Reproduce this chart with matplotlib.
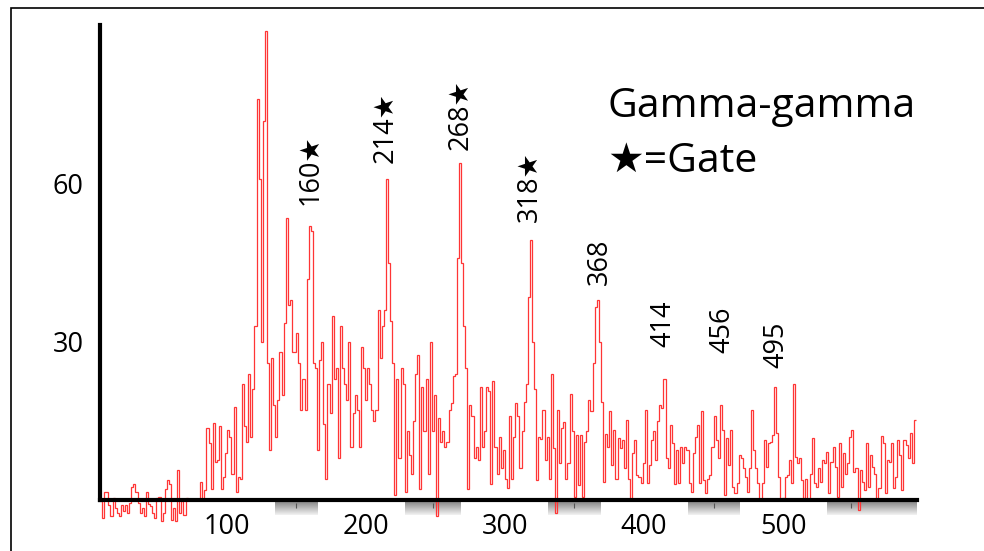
import numpy as np
import matplotlib
matplotlib.use("Agg")
import matplotlib.pyplot as plt
from matplotlib.patches import Rectangle
from matplotlib.colors import LinearSegmentedColormap

# ---------------- data ----------------
# background-subtracted counts per 1.5 keV bin, split by energy range
counts_009_109 = [0, -3.5, 1.6, 1.6, -1, -3, 0.3, -1.6, -2.5, -3,
                  -1, -2, -1, -2.5, -0.5, 2.5, 3, 1.6, -0.5, -2.5,
                  -1.5, -3, 1.6, -0.8, -1.2, -2.5, -3.5, 0.3, 0.5, -4,
                  -2.5, 2, 3.8, 3, -3.8, -1.5, -4, 5.7, -2.5, -0.2,
                  -2.8, 0.3, 0, 0, 0, 0, 0, 0, 3.4, 0,
                  1.9, 13.7, 10.8, 2, 14.6, 7.3, 7.6, 14, 2, 4.4,
                  9, 13.3, 12, 5, 17.7, 1.5, 4.4]
counts_109_210 = [4, 22, 14, 11, 24, 12, 21, 33, 76, 61,
                  30, 72, 89, 26, 9.5, 27, 18, 12, 19, 28,
                  20, 33.6, 53.5, 37, 38, 28, 28, 31.7, 26, 17,
                  23, 17, 42, 52, 51, 26, 25, 9.5, 26.5, 30,
                  14.5, 4, 22, 16.5, 35, 23, 25, 8, 33, 25,
                  22, 19, 30, 10, 16.5, 20, 17, 10, 29, 25,
                  19, 25, 22, 17, 15, 17, 36]
counts_210_310 = [27, 33, 36, 61, 45, 34, 26, 1, 23, 8,
                  25, 22, 1.5, 13, 8.5, 5, 15, 24, 27.5, 2,
                  21.5, 13, 23, 5, 30, 13, 20, -3, 15.5, 11,
                  13, 10, 11, 17, 18.5, 23.5, 24, 46, 64, 45,
                  33, 25, 2, 18, 16, 8, 10, 7.5, 21.5, 10,
                  13, 21.5, 20.6, 3, 22.5, 10, 5, 12, 6, 9.5,
                  4, 2.2, 16, 4, 12, 18.5, 16]
counts_310_410 = [6, 13, 18.6, 22, 38.5, 49.3, 30, 21, 3.8, 12,
                  11.5, 17, 7.6, 12, 4, 24, 9.8, -2.5, 17, 7,
                  13.7, 14.8, 4, 7, 20.2, 13, 0.6, 12.3, 2.8, 12.3,
                  0.6, 11, 13, 19, 16.8, 26, 36.7, 38, 30, 18.6,
                  3.5, 12.6, 10, 16.8, 6.6, 13.3, 4, 11.7, 9.8, 11.4,
                  6, 15.2, 4, 0, 8.9, 11.4, 4.7, 4.4, 3.2, 7,
                  17, 3.2, 6.6, 11.4, 13, 7.6, 15]
counts_410_510 = [18, 17.5, 23, 8, 6, 14.2, 10.8, 3, 9.5, 3.2,
                  10, 7, 10, 9.5, 3.2, 1.6, 8.9, 12, 14.2, 3.2,
                  16.8, 3.8, 1.3, 4, 4.7, 10, 16, 11.4, 8, 18,
                  13.3, 1, 11.7, 6.6, 13.3, 2.5, 1.3, 3.2, 8.5, 8,
                  6, 4.4, 1.6, 6, 17.1, 9.5, 6, 3.2, 0, 3.2,
                  11.4, 6.3, 10.8, 11, 12.3, 21.5, 12.7, 4.4, 0, 0.3,
                  4.4, 4.7, 7.6, 3.2, 22, 8.2, 7]
counts_510_596 = [8, 3.8, 0.3, 4, 0, 5, 11.7, 3.2, 2.5, 6,
                  3.5, 7.6, 7, 9.2, 1.3, 7.3, 10, 6.3, 0.6, 10.8,
                  2.5, 8.9, 5, 7, 12, 13.3, 5.4, 6, -1.9, 5.7,
                  3.5, 1.9, 10.8, 2.5, 8.5, 6.3, 5, 0, 2.2, 12.2,
                  10.8, 1.3, 7.6, 7.3, 10.8, 2.2, 4.4, 11.4, 8.5, 1.9,
                  11.4, 10.4, 8, 12.7, 7, 15.2]
first_edge_kev = 9.0
bin_width_kev = 1.5

peak_energies = [160, 214, 268, 318, 368, 414, 456, 495]
peak_is_gate = [True, True, True, True, False, False, False, False]
x_tick_values = [100, 200, 300, 400, 500]
y_tick_values = [30, 60]
legend_lines = ["Gamma-gamma", "\u2605=Gate"]

# ---------------- layout ----------------
W, H = 984, 551
FONT = ["Open Sans", "DejaVu Sans"]
plt.rcParams["font.family"] = FONT

counts = np.concatenate([counts_009_109, counts_109_210, counts_210_310,
                         counts_310_410, counts_410_510, counts_510_596])
edges = first_edge_kev + bin_width_kev * np.arange(len(counts) + 1)

px_per_kev = 2.087 / 1.5
px_per_count = 5.27
ax_left_px, ax_right_px = 100, 917
ax_top_px, zero_px = 25, 500
ymin = -6.0
ymax = (zero_px - ax_top_px) / px_per_count
ax_bottom_px = zero_px - ymin * px_per_count
xmin = first_edge_kev
xmax = xmin + (ax_right_px - ax_left_px) / px_per_kev

fig = plt.figure(figsize=(W / 100, H / 100), dpi=100)
fig.patch.set_facecolor("white")
ax = fig.add_axes([ax_left_px / W, 1 - ax_bottom_px / H,
                   (ax_right_px - ax_left_px) / W, (ax_bottom_px - ax_top_px) / H])
ax.set_facecolor("none")

# ghost shaded tick blocks under the axis
ghost_spans = [(134.8, 165.0), (228.3, 268.5), (331.0, 368.4), (431.7, 468.4), (531.6, xmax)]
ghost_ticks = [150, 248, 350, 450, 549]
gcmap = LinearSegmentedColormap.from_list("g", ["#8c8c8c", "#f2f2f2"])
grad = np.linspace(0, 1, 30).reshape(-1, 1)
for x0, x1 in ghost_spans:
    ax.imshow(grad, extent=[x0, x1, -2.9, -0.5], origin="upper", cmap=gcmap,
              aspect="auto", zorder=0.5, interpolation="bilinear")
ax.vlines(ghost_ticks, -1.6, -0.5, color="#555555", lw=0.8, zorder=0.6)

ax.stairs(counts, edges, baseline=None, color="#ff3535", lw=0.9, zorder=2)

ax.set_xlim(xmin, xmax)
ax.set_ylim(ymin, ymax)

for s in ("top", "right"):
    ax.spines[s].set_visible(False)
ax.spines["bottom"].set_position(("data", 0))
ax.spines["bottom"].set_linewidth(3.0)
ax.spines["left"].set_linewidth(3.0)
ax.spines["left"].set_bounds(0, ymax)
ax.spines["bottom"].set_zorder(3)
ax.spines["left"].set_zorder(3)

ax.set_xticks(x_tick_values)
ax.set_xticklabels([str(v) for v in x_tick_values])
ax.set_yticks(y_tick_values)
ax.set_yticklabels([str(v) for v in y_tick_values])
ax.tick_params(axis="x", length=0, pad=9, labelsize=19.5)
ax.tick_params(axis="y", length=0, pad=12, labelsize=19.5)

label_bottoms = [56, 64, 66.4, 52.8, 40.8, 29, 27.9, 25]
for e, g, yb in zip(peak_energies, peak_is_gate, label_bottoms):
    txt = f"{e}\u2605" if g else f"{e}"
    ax.text(e, yb, txt, rotation=90, ha="center", va="bottom",
            fontsize=19.5, color="black", family=FONT, zorder=4)

fig.text(607 / W, 1 - 117 / H, legend_lines[0], fontsize=29.5, va="baseline",
         ha="left", family=FONT)
fig.text(607 / W, 1 - 172 / H, legend_lines[1], fontsize=29.5, va="baseline",
         ha="left", family=FONT)

# outer frame (clipped at right and bottom)
fig.add_artist(Rectangle((11 / W, -0.1), 1.2, (1 - 8 / H) + 0.1,
                         transform=fig.transFigure, fill=False,
                         edgecolor="black", lw=1.2))

fig.savefig("out.png", dpi=100)
